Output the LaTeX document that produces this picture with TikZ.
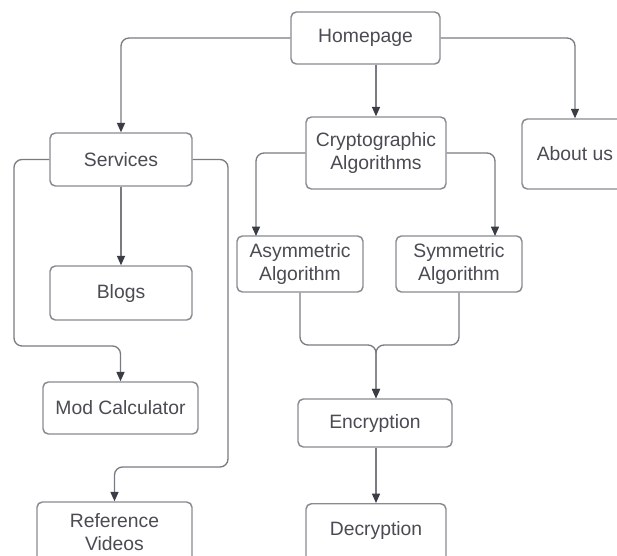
\documentclass[tikz,border=0pt]{standalone}
\usepackage{fontspec}
\setmainfont{Liberation Sans}
\usetikzlibrary{arrows.meta,calc}
\definecolor{boxline}{HTML}{8A8B90}
\definecolor{wire}{HTML}{7A7B80}
\definecolor{tip}{HTML}{3A3D45}
\definecolor{label}{HTML}{4A4B53}
\tikzset{
  card/.style={draw=boxline, line width=1.1pt, rounded corners=4pt, fill=white,
    align=center, text=label, inner sep=0pt,
    font=\fontsize{14.5}{17.3}\selectfont},
  wirearrow/.style={draw=wire, line width=1pt, rounded corners=6pt,
    -{Triangle[length=7pt,width=6pt,fill=tip,color=tip]}}
}
\begin{document}
\begin{tikzpicture}[x=0.75pt,y=-0.75pt]
\useasboundingbox (0,0) rectangle (617,556);
\clip (0,0) rectangle (617,556);
\fill[white] (0,0) rectangle (617,556);

% boxes
\node[card, minimum width=149*0.75pt, minimum height=52*0.75pt] (home) at (365.5,38) {Homepage};
\node[card, minimum width=142*0.75pt, minimum height=53*0.75pt] (serv) at (121,159.5) {Services};
\node[card, minimum width=140*0.75pt, minimum height=72*0.75pt] (crypt) at (376,153) {Cryptographic\\Algorithms};
\node[card, minimum width=106*0.75pt, minimum height=70*0.75pt] (about) at (575,154) {About us};
\node[card, minimum width=142*0.75pt, minimum height=54*0.75pt] (blogs) at (121,293) {Blogs};
\node[card, minimum width=126*0.75pt, minimum height=56*0.75pt] (asym) at (300,264) {Asymmetric\\Algorithm};
\node[card, minimum width=126*0.75pt, minimum height=56*0.75pt] (sym) at (459,264) {Symmetric\\Algorithm};
\node[card, minimum width=155*0.75pt, minimum height=52*0.75pt] (mod) at (120.5,408) {Mod Calculator};
\node[card, minimum width=154*0.75pt, minimum height=48*0.75pt] (enc) at (375,423) {Encryption};
% the two bottom boxes run past the lower edge
\node[card, minimum width=155*0.75pt, minimum height=60*0.75pt] (ref) at (114.5,532) {Reference\\Videos};
\node[card, anchor=north, minimum width=140*0.75pt, text height=24pt, text depth=22pt] (dec) at (376,503) {Decryption};

% bend points and landing points
\coordinate (servLeft) at (14,346);
\coordinate (servRight) at (228,467);
\coordinate (asymIn) at (256,236);
\coordinate (symIn) at (495,236);
\coordinate (merge) at (376,345);

% connectors
\draw[wirearrow] (home.west) -| (serv.north);
\draw[wirearrow] (home.south -| crypt.north) -- (crypt.north);
\draw[wirearrow] (home.east) -| (about.north);
\draw[wirearrow] (serv.south) -- (blogs.north);
\draw[wirearrow] (serv.west) -| (servLeft) -| (mod.north);
\draw[wirearrow] (serv.east) -| (servRight) -| (ref.north);
\draw[wirearrow] (crypt.west) -| (asymIn);
\draw[wirearrow] (crypt.east) -| (symIn);
\draw[wirearrow] (asym.south) |- (merge) -- (merge |- enc.north);
\draw[wirearrow] (sym.south) |- (merge) -- (merge |- enc.north);
\draw[wirearrow] (enc.south -| dec.north) -- (dec.north);
\end{tikzpicture}
\end{document}
